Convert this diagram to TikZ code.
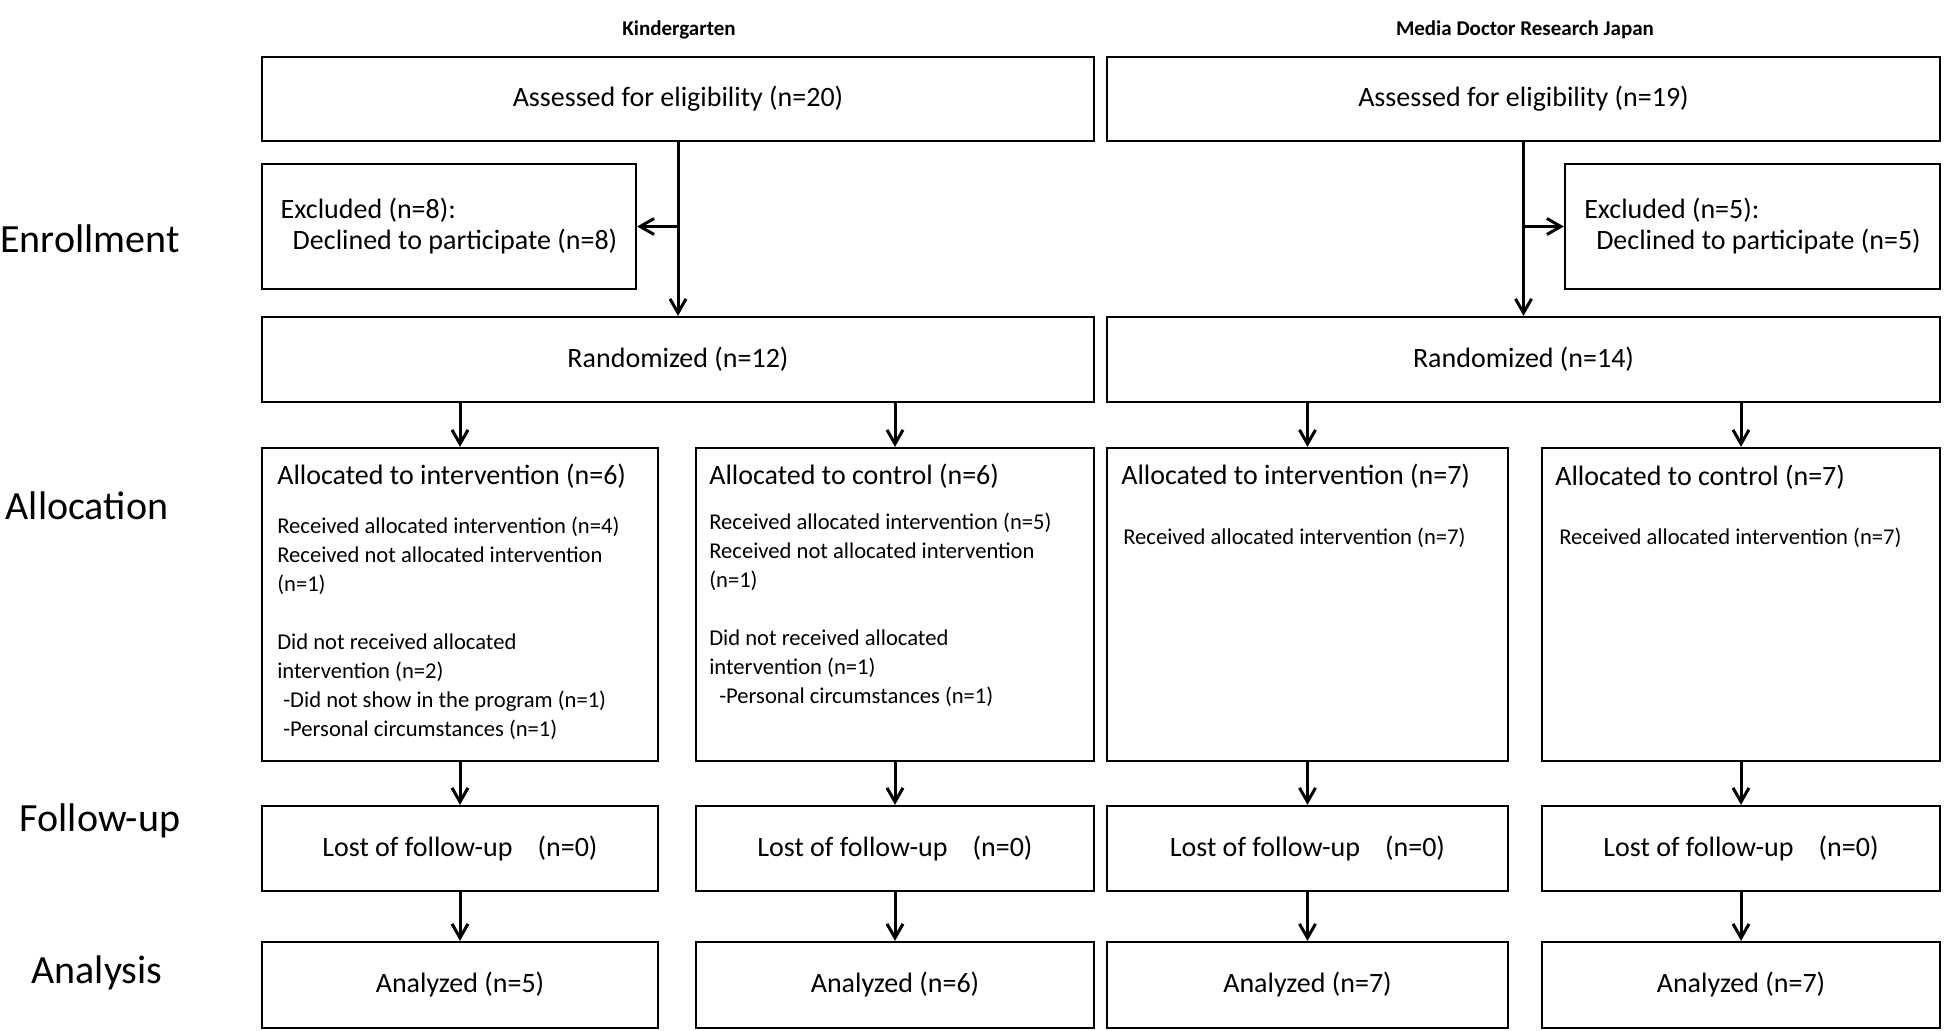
\documentclass[tikz,border=0pt]{standalone}
\usepackage{fontspec}
\setmainfont{Carlito}
\usepackage{tikz}
\usetikzlibrary{arrows.meta, positioning}
\tikzset{>={Straight Barb[length=7pt,width=8pt]}}
\tikzset{flowbox/.style={draw, line width=1.1pt, inner sep=0pt, font=\fontsize{14}{17}\selectfont},
	arr/.style={->, line width=1.5pt},
	rowlabel/.style={font=\fontsize{20}{24}\selectfont},
	site/.style={font=\bfseries\fontsize{10.5}{13}\selectfont},
	boxtitle/.style={anchor=north west, inner sep=0pt, font=\fontsize{14}{17}\selectfont},
	detail/.style={anchor=north west, inner sep=0pt, align=left, font=\fontsize{11.3}{14.5}\selectfont}}

\begin{document}
\begin{tikzpicture}[x=0.5pt,y=-0.5pt]
			\useasboundingbox (0,0) rectangle (1944,1031);
			\node[site] (kgtitle) at (679,30) {Kindergarten};
			\node[site] (mdtitle) at (1525,30) {Media Doctor Research Japan};
			\node[rowlabel] (enroll) at (90,239) {Enrollment};
			\node[rowlabel] (alloc) at (87,506) {Allocation};
			\node[rowlabel] (follow) at (100,821) {Follow-up};
			\node[rowlabel] (analysis) at (97,973) {Analysis};
			\node[flowbox, minimum width=416pt, minimum height=42pt] (kgassess) at (678,99) {Assessed for eligibility (n=20)};
			\node[flowbox, minimum width=416.5pt, minimum height=42pt] (mdassess) at (1523.5,99) {Assessed for eligibility (n=19)};
			\node[flowbox, minimum width=187pt, minimum height=62.5pt, align=left, font=\fontsize{14}{15.5}\selectfont] (kgexcl) at (449,226.5) {Excluded (n=8):\\\hspace*{6pt}Declined to participate (n=8)};
			\node[flowbox, minimum width=187.5pt, minimum height=62.5pt, align=left, font=\fontsize{14}{15.5}\selectfont] (mdexcl) at (1752.5,226.5) {Excluded (n=5):\\\hspace*{6pt}Declined to participate (n=5)};
			\node[flowbox, minimum width=416pt, minimum height=42.5pt] (kgrand) at (678,359.5) {Randomized (n=12)};
			\node[flowbox, minimum width=416.5pt, minimum height=42.5pt] (mdrand) at (1523.5,359.5) {Randomized (n=14)};
			\node[flowbox, minimum width=198pt, minimum height=156.5pt] (kgint) at (460,604.5) {};
			\node[flowbox, minimum width=199pt, minimum height=156.5pt] (kgctrl) at (895,604.5) {};
			\node[flowbox, minimum width=200.5pt, minimum height=156.5pt] (mdint) at (1307.5,604.5) {};
			\node[flowbox, minimum width=199pt, minimum height=156.5pt] (mdctrl) at (1741,604.5) {};
			\node[boxtitle] (kgintT) at ([shift={(16,17)}]kgint.north west) {Allocated to intervention (n=6)};
			\node[detail] (kgintD) at ([shift={(16,70)}]kgint.north west) {Received allocated intervention (n=4)\\Received not allocated intervention\\(n=1)\\[14.5pt]Did not received allocated\\intervention (n=2)\\\hspace*{3pt}-Did not show in the program (n=1)\\\hspace*{3pt}-Personal circumstances (n=1)};
			\node[boxtitle] (kgctrlT) at ([shift={(14,17)}]kgctrl.north west) {Allocated to control (n=6)};
			\node[detail] (kgctrlD) at ([shift={(14,66)}]kgctrl.north west) {Received allocated intervention (n=5)\\Received not allocated intervention\\(n=1)\\[14.5pt]Did not received allocated\\intervention (n=1)\\\hspace*{5pt}-Personal circumstances (n=1)};
			\node[boxtitle] (mdintT) at ([shift={(15,17)}]mdint.north west) {Allocated to intervention (n=7)};
			\node[detail] (mdintD) at ([shift={(17,81)}]mdint.north west) {Received allocated intervention (n=7)};
			\node[boxtitle] (mdctrlT) at ([shift={(14,18)}]mdctrl.north west) {Allocated to control (n=7)};
			\node[detail] (mdctrlD) at ([shift={(18,81)}]mdctrl.north west) {Received allocated intervention (n=7)};
			\foreach \col/\x/\w in {kgint/460/198pt, kgctrl/895/199pt, mdint/1307.5/200.5pt, mdctrl/1741/199pt} {
				\node[flowbox, minimum width=\w, minimum height=42.5pt] (\col fu) at (\x,848.5) {Lost of follow-up\hspace{0.9em}(n=0)};
			}
			\node[flowbox, minimum width=198pt, minimum height=43pt] (kgintan) at (460,985) {Analyzed (n=5)};
			\node[flowbox, minimum width=199pt, minimum height=43pt] (kgctrlan) at (895,985) {Analyzed (n=6)};
			\node[flowbox, minimum width=200.5pt, minimum height=43pt] (mdintan) at (1307.5,985) {Analyzed (n=7)};
			\node[flowbox, minimum width=199pt, minimum height=43pt] (mdctrlan) at (1741,985) {Analyzed (n=7)};
			\draw[arr] (kgassess) -- (kgrand);
			\draw[arr] (kgassess.south |- kgexcl.east) -- (kgexcl.east);
			\draw[arr] (mdassess) -- (mdrand);
			\draw[arr] (mdassess.south |- mdexcl.west) -- (mdexcl.west);
			\foreach \col/\r in {kgint/kgrand, kgctrl/kgrand, mdint/mdrand, mdctrl/mdrand} {
				\draw[arr] (\col.north |- \r.south) -- (\col.north);
				\draw[arr] (\col) -- (\col fu);
				\draw[arr] (\col fu) -- (\col an);
			}
\end{tikzpicture}
\end{document}
